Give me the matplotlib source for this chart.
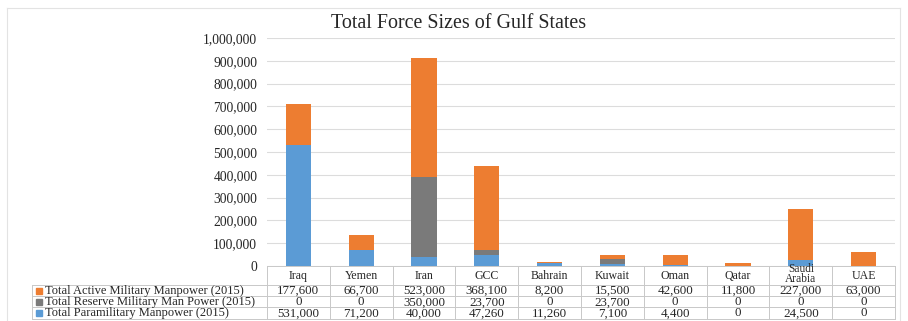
import matplotlib
matplotlib.use('Agg')
import matplotlib.pyplot as plt
from matplotlib.patches import Rectangle
from matplotlib.lines import Line2D
import numpy as np

plt.rcParams['font.family'] = ['Liberation Serif', 'DejaVu Serif']

# Data
countries = ['Iraq', 'Yemen', 'Iran', 'GCC', 'Bahrain', 'Kuwait', 'Oman', 'Qatar', 'Saudi\nArabia', 'UAE']
active = [177600, 66700, 523000, 368100, 8200, 15500, 42600, 11800, 227000, 63000]
reserve = [0, 0, 350000, 23700, 0, 23700, 0, 0, 0, 0]
paramilitary = [531000, 71200, 40000, 47260, 11260, 7100, 4400, 0, 24500, 0]
series_names = ['Total Active Military Manpower (2015)',
                'Total Reserve Military Man Power (2015)',
                'Total Paramilitary Manpower (2015)']
yticks = [0, 100000, 200000, 300000, 400000, 500000, 600000, 700000, 800000, 900000, 1000000]

c_active = '#ED7D31'
c_reserve = '#7A7A7A'
c_para = '#5B9BD5'
grid_c = '#dcdcdc'
txt_c = '#262626'

W, H = 908, 321
fig = plt.figure(figsize=(W / 100, H / 100), dpi=100)

# axes placed in pixel terms
ax_l, ax_r, ax_t, ax_b = 267, 895, 38, 266
ax_w = ax_r - ax_l
ax_h = ax_b - ax_t
ax = fig.add_axes([ax_l / W, 1 - ax_b / H, ax_w / W, ax_h / H])

x = np.arange(len(countries))
para = np.array(paramilitary)
res = np.array(reserve)
act = np.array(active)
ax.bar(x, para, width=0.4, color=c_para, zorder=3)
ax.bar(x, res, width=0.4, bottom=para, color=c_reserve, zorder=3)
ax.bar(x, act, width=0.4, bottom=para + res, color=c_active, zorder=3)

ax.set_xlim(-0.5, len(countries) - 0.5)
ax.set_ylim(0, 1000000)
ax.set_yticks(yticks)
ax.set_yticklabels([f'{v:,}' for v in yticks], fontsize=9.8, color=txt_c)
ax.tick_params(axis='y', length=0, pad=7)
ax.set_xticks([])
for s in ax.spines.values():
    s.set_visible(False)
ax.grid(True, axis='y', color=grid_c, linewidth=0.8, zorder=0)

# data table drawn below the axes
lab_left = 32
head_h, row_h = 19, 11.2
edge = '#c8c8c8'
xt = ax.get_xaxis_transform()   # x in data, y in axes fraction


def ay(px):
    # pixels below the axes bottom -> axes fraction
    return -px / ax_h


row_bounds = [0, head_h] + [head_h + (i + 1) * row_h for i in range(3)]
x_lab = (lab_left - ax_l) / ax_w
# horizontal rules
ax.add_line(Line2D([0, 1], [ay(0), ay(0)], transform=ax.transAxes, color=edge,
                   linewidth=0.7, clip_on=False))
for b in row_bounds[1:]:
    ax.add_line(Line2D([x_lab, 1], [ay(b), ay(b)], transform=ax.transAxes, color=edge,
                       linewidth=0.7, clip_on=False))
# vertical rules
for j in range(len(countries) + 1):
    ax.add_line(Line2D([j - 0.5, j - 0.5], [ay(0), ay(row_bounds[-1])], transform=xt,
                       color=edge, linewidth=0.7, clip_on=False))
ax.add_line(Line2D([x_lab, x_lab], [ay(head_h), ay(row_bounds[-1])], transform=ax.transAxes,
                   color=edge, linewidth=0.7, clip_on=False))

# header
for j, name in enumerate(countries):
    two = '\n' in name
    ax.text(j, ay(head_h / 2 - (1.5 if two else -0.5)), name, transform=xt,
            ha='center', va='center', fontsize=8.3 if two else 8.6, color=txt_c,
            linespacing=0.72)

# rows
rows = [active, reserve, paramilitary]
cols = [c_active, c_reserve, c_para]
sq = 6
for i, vals in enumerate(rows):
    cy = head_h + (i + 0.5) * row_h
    ax.add_patch(Rectangle((x_lab + 4 / ax_w, ay(cy + sq / 2)), sq / ax_w, sq / ax_h,
                           transform=ax.transAxes, color=cols[i], clip_on=False))
    ax.text(x_lab + 13 / ax_w, ay(cy), series_names[i], transform=ax.transAxes,
            ha='left', va='center', fontsize=9, color=txt_c)
    for j, v in enumerate(vals):
        ax.text(j, ay(cy + 0.5), f'{v:,}', transform=xt, ha='center', va='center',
                fontsize=9.4, color=txt_c)

# title
fig.text(459 / W, 1 - 23 / H, 'Total Force Sizes of Gulf States', ha='center', va='center',
         fontsize=14.4, color=txt_c)

# light outer frame
for xs, ys in [([7, 7], [8, H]), ([7, 900], [8, 8]), ([900, 900], [8, H])]:
    fig.add_artist(Line2D([v / W for v in xs], [1 - v / H for v in ys],
                          transform=fig.transFigure, color='#e3e3e3', linewidth=0.8))

fig.savefig('out.png', dpi=100)
